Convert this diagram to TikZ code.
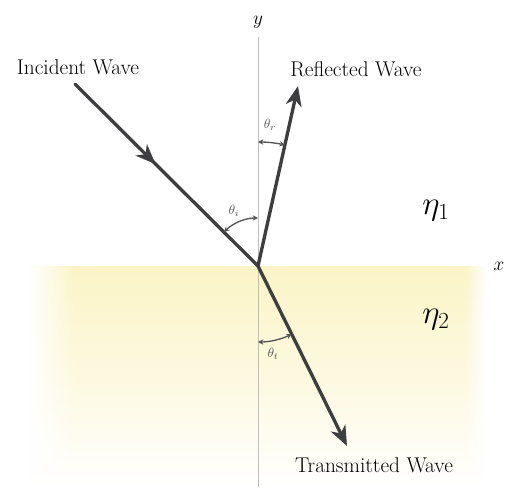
\documentclass[tikz,border=0pt]{standalone}
\usetikzlibrary{arrows.meta,decorations.markings,fadings}
\definecolor{wavegray}{RGB}{62,62,64}
\definecolor{arcgray}{RGB}{85,85,85}
\definecolor{axisgray}{RGB}{190,190,190}
\definecolor{medyel}{RGB}{251,244,198}
\tikzset{
  wave/.style={draw=wavegray, line width=2.5pt, line cap=round},
  wavetip/.style={-{Stealth[length=15pt,width=12pt,inset=4.5pt]}},
  anglearc/.style={draw=arcgray, line width=1pt, {Stealth[length=4pt,width=4pt]}-{Stealth[length=4pt,width=4pt]}},
  lbl/.style={font=\fontsize{16}{18}\selectfont, inner sep=0pt},
  anglbl/.style={font=\fontsize{10}{11}\selectfont, inner sep=0pt, text=arcgray},
  medlbl/.style={font=\fontsize{26}{28}\selectfont, inner sep=0pt},
}
\begin{document}
\begin{tikzpicture}[x=0.75pt,y=0.75pt]
\useasboundingbox (0,0) rectangle (508,487);
% medium 2 shading
\shade[top color=medyel, bottom color=white, middle color=medyel!55] (30,0) rectangle (485,221);
\fill[white, path fading=east] (29,0) rectangle (75,221);
\fill[white, path fading=west] (465,0) rectangle (486,221);
% axis
\coordinate (O) at (258,221);
\coordinate (ytop) at (258,450);
\coordinate (ybot) at (258,0);
\draw[axisgray, line width=0.6pt] (ytop) -- (ybot);
\node[font=\fontsize{15}{17}\selectfont, inner sep=0pt] (ylab) at (258,465) {$y$};
\node[font=\fontsize{15}{17}\selectfont, inner sep=0pt] (xlab) at (499,221) {$x$};
% waves
\coordinate (inc) at (75,403);
\coordinate (refl) at (298,401);
\coordinate (trans) at (347,41);
\draw[wave, postaction={decorate}, decoration={markings, mark=at position 0.44 with {\arrow{Stealth[length=15pt,width=12pt,inset=4.5pt]}}}] (inc) -- (O);
\draw[wave, wavetip] (O) -- (refl);
\draw[wave, wavetip] (O) -- (trans);
% angle arcs
\draw[anglearc] (O) ++(135:48) arc (135:90:48);
\draw[anglearc] (O) ++(90:124) arc (90:77.5:124);
\draw[anglearc] (O) ++(-90:76) arc (-90:-63.7:76);
\node[anglbl] (ti) at (234,276) {$\theta_i$};
\node[anglbl] (tr) at (270,362) {$\theta_r$};
\node[anglbl] (tt) at (273,133) {$\theta_t$};
% media
\node[medlbl] (n1) at (436,276) {$\eta_1$};
\node[medlbl] (n2) at (436,167) {$\eta_2$};
% labels
\node[lbl] (li) at (78,420) {Incident Wave};
\node[lbl] (lr) at (356,418) {Reflected Wave};
\node[lbl] (lt) at (374,22) {Transmitted Wave};
\end{tikzpicture}
\end{document}
